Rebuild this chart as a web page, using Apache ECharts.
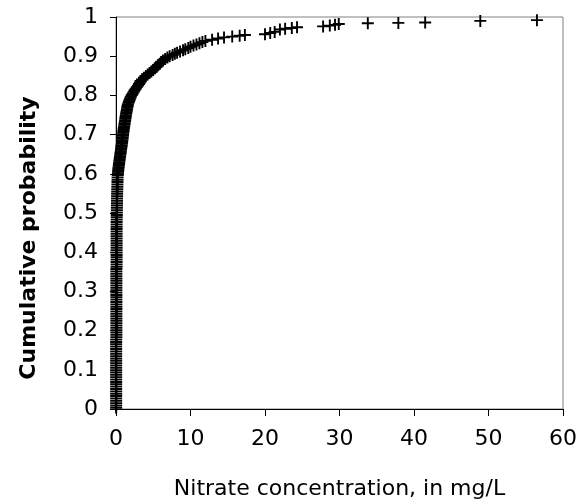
<!DOCTYPE html>
<html>
<head>
<meta charset="utf-8">
<script src="https://cdn.jsdelivr.net/npm/echarts@6/dist/echarts.min.js"></script>
<style>
html,body{margin:0;padding:0;background:#fff;}
#chart{width:585px;height:503px;}
</style>
</head>
<body>
<div id="chart"></div>
<script>
// Nitrate concentration (mg/L) of each plotted sample, sorted
var concentration = [
  0.02,0.02,0.02,0.02,0.02,0.02,0.02,0.02,0.02,0.02,
  0.02,0.02,0.02,0.02,0.02,0.02,0.02,0.02,0.02,0.02,
  0.02,0.02,0.02,0.02,0.02,0.02,0.02,0.02,0.02,0.02,
  0.05,0.05,0.05,0.05,0.05,0.05,0.05,0.05,0.05,0.05,
  0.05,0.05,0.05,0.05,0.05,0.05,0.05,0.05,0.05,0.05,
  0.05,0.05,0.05,0.05,0.05,0.05,0.05,0.05,0.05,0.05,
  0.08,0.08,0.08,0.08,0.08,0.08,0.08,0.08,0.08,0.08,
  0.08,0.08,0.08,0.08,0.08,0.08,0.08,0.08,0.08,0.08,
  0.1,0.1,0.11,0.11,0.12,0.12,0.13,0.13,0.14,0.14,
  0.15,0.15,0.16,0.17,0.18,0.19,0.2,0.21,0.22,0.24,
  0.26,0.28,0.3,0.32,0.35,0.38,0.4,0.43,0.46,0.49,
  0.52,0.55,0.58,0.61,0.64,0.67,0.7,0.73,0.76,0.79,
  0.82,0.85,0.88,0.9,0.93,0.95,0.98,1.0,1.03,1.06,
  1.1,1.13,1.16,1.2,1.23,1.26,1.29,1.32,1.36,1.4,
  1.44,1.48,1.52,1.56,1.6,1.68,1.76,1.84,1.92,2.0,
  2.12,2.25,2.38,2.5,2.65,2.8,2.95,3.1,3.2,3.3,
  3.5,3.75,4.0,4.25,4.5,4.75,5.0,5.25,5.45,5.65,
  5.85,6.05,
  6.3,6.6,6.9,7.2,7.6,7.9,8.2,8.6,9.0,9.3,
  9.7,10.0,10.4,10.8,11.2,11.6,12.0,
  12.9,13.7,14.5,15.6,16.6,17.3,
  20.0,20.7,21.3,22.0,22.7,23.6,24.3,
  27.8,28.7,29.4,29.9,
  33.8,37.9,41.5,48.9,56.5
];
// Cumulative probability of each sample
var probability = [
  0.003,0.009,0.015,0.021,0.027,0.033,0.039,0.045,0.051,0.057,
  0.063,0.069,0.075,0.081,0.087,0.093,0.099,0.105,0.111,0.117,
  0.123,0.129,0.135,0.141,0.147,0.153,0.159,0.165,0.171,0.177,
  0.183,0.189,0.195,0.201,0.207,0.213,0.219,0.225,0.231,0.237,
  0.243,0.249,0.255,0.261,0.267,0.273,0.279,0.285,0.291,0.297,
  0.303,0.309,0.315,0.321,0.327,0.333,0.339,0.345,0.351,0.357,
  0.363,0.369,0.375,0.381,0.387,0.393,0.399,0.405,0.411,0.417,
  0.423,0.429,0.435,0.441,0.447,0.453,0.459,0.465,0.471,0.477,
  0.483,0.489,0.495,0.501,0.507,0.513,0.519,0.525,0.531,0.537,
  0.543,0.549,0.555,0.561,0.567,0.573,0.579,0.585,0.591,0.597,
  0.601,0.605,0.609,0.613,0.617,0.621,0.625,0.629,0.633,0.637,
  0.641,0.645,0.649,0.653,0.657,0.661,0.665,0.669,0.673,0.677,
  0.681,0.685,0.689,0.693,0.697,0.701,0.705,0.709,0.713,0.717,
  0.721,0.725,0.729,0.733,0.737,0.741,0.745,0.749,0.753,0.757,
  0.761,0.765,0.769,0.773,0.777,0.781,0.785,0.789,0.793,0.797,
  0.801,0.805,0.809,0.813,0.817,0.821,0.825,0.829,0.833,0.837,
  0.841,0.845,0.849,0.853,0.857,0.861,0.865,0.869,0.873,0.877,
  0.881,0.885,0.889,0.893,0.897,
  0.900,0.903,0.906,0.909,0.912,0.915,0.918,0.921,0.924,0.927,
  0.930,0.933,0.936,0.939,0.942,0.945,0.948,
  0.950,0.952,0.954,0.956,0.959,0.962,
  0.968,0.970,0.972,0.974,0.976,0.978,0.980,
  0.982,0.984,0.985,0.986,
  0.990,0.992,0.993,0.996,0.998
];
var xTicks = [0, 10, 20, 30, 40, 50, 60];
var yTicks = [0, 0.1, 0.2, 0.3, 0.4, 0.5, 0.6, 0.7, 0.8, 0.9, 1];
var xTitle = 'Nitrate concentration, in mg/L';
var yTitle = 'Cumulative probability';

var points = concentration.map(function (c, i) { return [c, probability[i]]; });

var chart = echarts.init(document.getElementById('chart'), null, {renderer: 'canvas'});
var FONT = '"DejaVu Sans", "Liberation Sans", sans-serif';
chart.setOption({
  animation: false,
  backgroundColor: '#ffffff',
  grid: {
    left: 116, right: 22, top: 17, bottom: 94,
    show: true, borderColor: '#808080', borderWidth: 1,
    outerBoundsMode: 'none'
  },
  xAxis: {
    type: 'value',
    min: xTicks[0], max: xTicks[xTicks.length - 1],
    interval: xTicks[1] - xTicks[0],
    name: xTitle,
    nameLocation: 'middle',
    nameGap: 69,
    nameTextStyle: {fontFamily: FONT, fontSize: 22, color: '#000'},
    axisLine: {show: true, onZero: false, lineStyle: {color: '#000', width: 1}},
    axisTick: {show: true, inside: false, length: 7, lineStyle: {color: '#000'}},
    axisLabel: {margin: 19, fontFamily: FONT, fontSize: 22, color: '#000',
      formatter: function (v) { var i = xTicks.indexOf(v); return i >= 0 ? String(xTicks[i]) : ''; }},
    splitLine: {show: false}
  },
  yAxis: {
    type: 'value',
    min: yTicks[0], max: yTicks[yTicks.length - 1],
    interval: 0.1,
    name: yTitle,
    nameLocation: 'middle',
    nameRotate: 90,
    nameGap: 76,
    nameTextStyle: {fontFamily: FONT, fontSize: 22, fontWeight: 'bold', color: '#000',
      padding: [0, 50, 0, 0]},
    axisLine: {show: true, onZero: false, lineStyle: {color: '#000', width: 1}},
    axisTick: {show: true, inside: false, length: 6, lineStyle: {color: '#000'}},
    axisLabel: {margin: 18, fontFamily: FONT, fontSize: 22, color: '#000',
      formatter: function (v) { return String(Math.round(v * 10) / 10); }},
    splitLine: {show: false}
  },
  series: [{
    type: 'scatter',
    data: points,
    symbol: 'path://M0,5.05H12V6.95H0Z M5.05,0H6.95V12H5.05Z',
    symbolSize: 12,
    itemStyle: {color: '#000', opacity: 1},
    clip: false
  }]
});
</script>
</body>
</html>
